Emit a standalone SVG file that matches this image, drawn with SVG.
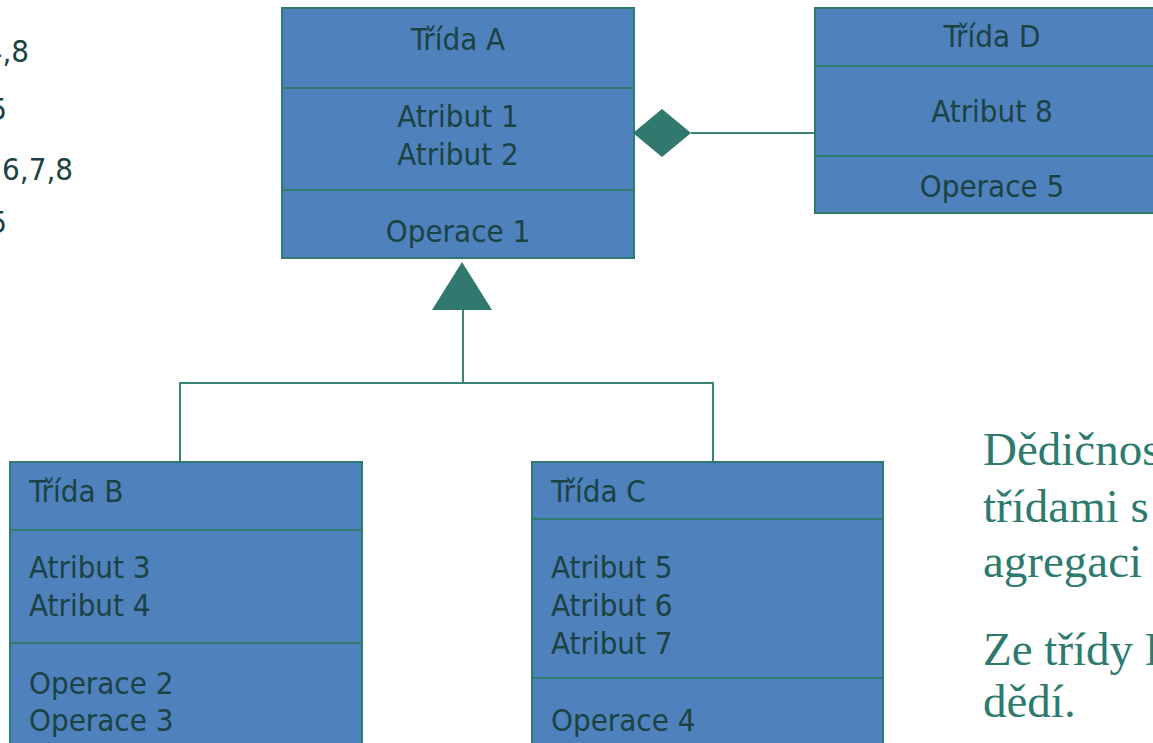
<svg xmlns="http://www.w3.org/2000/svg" width="1153" height="743" viewBox="0 0 1153 743">
<style>
.box{fill:#4F81BD;stroke:#2F7A6E;stroke-width:2}
.div{stroke:#2F7A6E;stroke-width:2;fill:none}
.t{font-family:"DejaVu Sans Condensed","DejaVu Sans",sans-serif;font-size:31px;fill:#1B4343}
.c{text-anchor:middle}
.conn{stroke:#3A8478;stroke-width:2;fill:none}
.head{fill:#31786E;stroke:none}
.note{font-family:"Liberation Serif",serif;font-size:47px;fill:#2E7A6F}
.side{font-family:"DejaVu Sans Condensed","DejaVu Sans",sans-serif;font-size:31px;fill:#1B4343;text-anchor:end}
</style>
<rect width="1153" height="743" fill="#ffffff"/>
<g id="side-text">
<text class="side" x="29" y="62">4,8</text>
<text class="side" x="7" y="120">5</text>
<text class="side" x="73" y="180">5,6,7,8</text>
<text class="side" x="7" y="233">5</text>
</g>
<g id="connectors">
<line class="conn" x1="691" y1="133" x2="815" y2="133"/>
<polygon class="head" points="633,133 662,109 691,133 662,157"/>
<line class="conn" x1="463" y1="309" x2="463" y2="383"/>
<polygon class="head" points="462,262 492,310 432,310"/>
<polyline class="conn" points="180,462 180,383 713,383 713,462"/>
</g>
<g id="classA">
<rect class="box" x="282" y="8" width="352" height="250"/>
<line class="div" x1="282" y1="88" x2="634" y2="88"/>
<line class="div" x1="282" y1="190" x2="634" y2="190"/>
<text class="t c" x="458" y="50">Třída A</text>
<text class="t c" x="458" y="127">Atribut 1</text>
<text class="t c" x="458" y="165">Atribut 2</text>
<text class="t c" x="458" y="242">Operace 1</text>
</g>
<g id="classD">
<rect class="box" x="815" y="8" width="354" height="205"/>
<line class="div" x1="815" y1="66" x2="1169" y2="66"/>
<line class="div" x1="815" y1="156" x2="1169" y2="156"/>
<text class="t c" x="992" y="47">Třída D</text>
<text class="t c" x="992" y="122">Atribut 8</text>
<text class="t c" x="992" y="197">Operace 5</text>
</g>
<g id="classB">
<rect class="box" x="10" y="462" width="352" height="300"/>
<line class="div" x1="10" y1="530" x2="362" y2="530"/>
<line class="div" x1="10" y1="643" x2="362" y2="643"/>
<text class="t" x="29" y="502">Třída B</text>
<text class="t" x="29" y="578">Atribut 3</text>
<text class="t" x="29" y="616">Atribut 4</text>
<text class="t" x="29" y="694">Operace 2</text>
<text class="t" x="29" y="731">Operace 3</text>
</g>
<g id="classC">
<rect class="box" x="532" y="462" width="351" height="300"/>
<line class="div" x1="532" y1="519" x2="883" y2="519"/>
<line class="div" x1="532" y1="678" x2="883" y2="678"/>
<text class="t" x="551" y="502">Třída C</text>
<text class="t" x="551" y="578">Atribut 5</text>
<text class="t" x="551" y="616">Atribut 6</text>
<text class="t" x="551" y="654">Atribut 7</text>
<text class="t" x="551" y="731">Operace 4</text>
</g>
<g id="note">
<text class="note" x="983" y="465">Dědičnos</text>
<text class="note" x="983" y="522">třídami s</text>
<text class="note" x="983" y="577">agregaci</text>
<text class="note" x="983" y="665">Ze třídy D</text>
<text class="note" x="983" y="717">dědí.</text>
</g>
</svg>
